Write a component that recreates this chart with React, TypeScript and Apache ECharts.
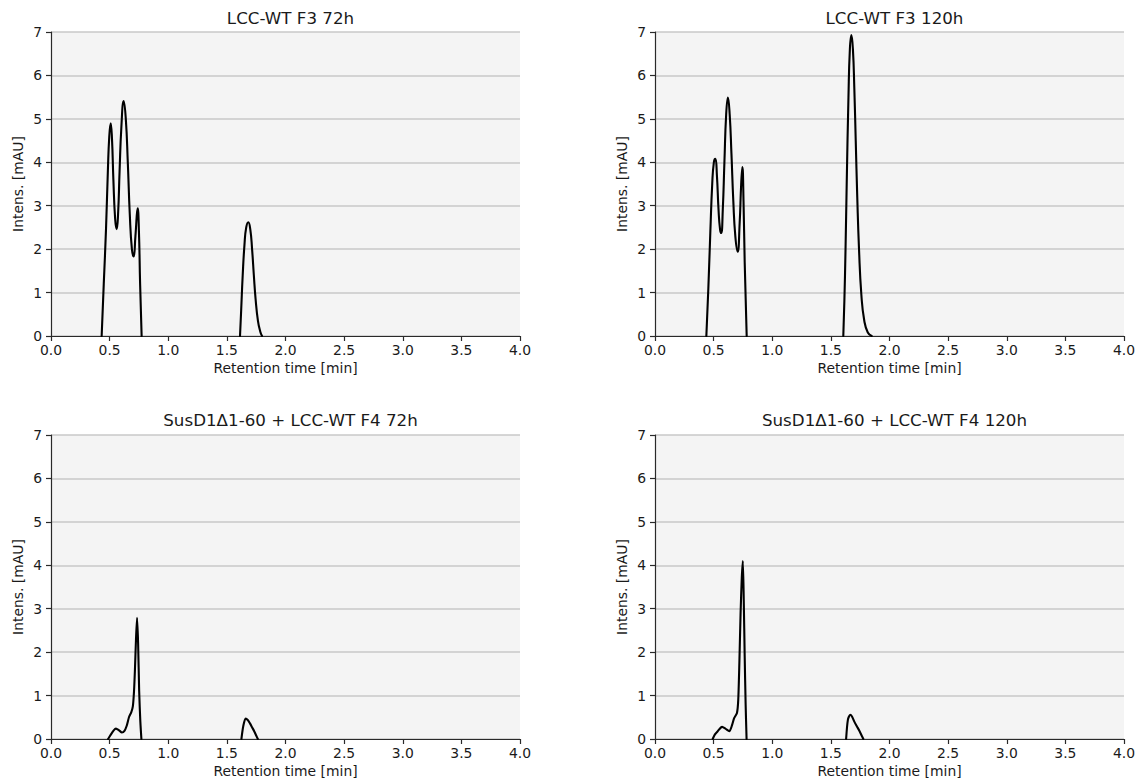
import React, { useEffect, useRef } from "react";
import * as echarts from "echarts";

type Pt = [number, number];

const titles: string[] = [
  "LCC-WT F3 72h",
  "LCC-WT F3 120h",
  "SusD1\u03941-60 + LCC-WT F4 72h",
  "SusD1\u03941-60 + LCC-WT F4 120h",
];

const xTicks = [0, 0.5, 1, 1.5, 2, 2.5, 3, 3.5, 4];
const yTicks = [0, 1, 2, 3, 4, 5, 6, 7];

// LCC-WT F3 72h
const f3h72EarlyPeaks: Pt[] = [
  [0.432, 0], [0.45, 1.2], [0.469, 2.45], [0.485, 3.8], [0.497, 4.6], [0.509, 4.9],
  [0.52, 4.55], [0.532, 3.6], [0.547, 2.7], [0.56, 2.46], [0.572, 2.8], [0.585, 3.8],
  [0.6, 4.8], [0.62, 5.41], [0.638, 5.0], [0.655, 4.0], [0.672, 2.8], [0.69, 2.0],
  [0.705, 1.83], [0.72, 2.3], [0.739, 2.94], [0.75, 2.4], [0.76, 1.2], [0.773, 0],
];
const f3h72LatePeak: Pt[] = [
  [1.612, 0], [1.622, 0.6], [1.635, 1.4], [1.65, 2.1], [1.665, 2.5], [1.683, 2.62],
  [1.7, 2.45], [1.715, 2.0], [1.73, 1.4], [1.745, 0.85], [1.765, 0.35], [1.785, 0.1],
  [1.8, 0],
];

// LCC-WT F3 120h
const f3h120EarlyPeaks: Pt[] = [
  [0.438, 0], [0.455, 1.1], [0.472, 2.4], [0.488, 3.5], [0.502, 4.0], [0.515, 4.08],
  [0.528, 3.7], [0.542, 2.9], [0.555, 2.45], [0.565, 2.37], [0.578, 2.9], [0.592, 4.0],
  [0.607, 5.1], [0.622, 5.49], [0.637, 5.1], [0.652, 4.2], [0.668, 3.1], [0.685, 2.3],
  [0.705, 1.94], [0.722, 2.6], [0.735, 3.5], [0.745, 3.89], [0.755, 3.1], [0.765, 1.7],
  [0.782, 0],
];
const f3h120LatePeak: Pt[] = [
  [1.606, 0], [1.615, 0.8], [1.625, 2.0], [1.635, 3.5], [1.65, 5.5], [1.662, 6.6],
  [1.675, 6.93], [1.688, 6.6], [1.7, 5.7], [1.712, 4.5], [1.725, 3.2], [1.74, 2.0],
  [1.76, 0.95], [1.785, 0.35], [1.815, 0.08], [1.848, 0],
];

// SusD1Δ1-60 + LCC-WT F4 72h
const f4h72EarlyPeaks: Pt[] = [
  [0.487, 0], [0.51, 0.1], [0.535, 0.2], [0.554, 0.24], [0.58, 0.2], [0.605, 0.15],
  [0.625, 0.18], [0.645, 0.3], [0.665, 0.5], [0.685, 0.62], [0.698, 0.75], [0.708, 1.1],
  [0.716, 1.6], [0.725, 2.3], [0.734, 2.79], [0.743, 2.2], [0.752, 1.1], [0.762, 0.4],
  [0.771, 0],
];
const f4h72LatePeak: Pt[] = [
  [1.624, 0], [1.64, 0.3], [1.66, 0.47], [1.68, 0.43], [1.697, 0.36], [1.715, 0.27],
  [1.733, 0.18], [1.75, 0.08], [1.764, 0],
];

// SusD1Δ1-60 + LCC-WT F4 120h
const f4h120EarlyPeaks: Pt[] = [
  [0.492, 0], [0.51, 0.1], [0.535, 0.18], [0.572, 0.28], [0.6, 0.24], [0.634, 0.18],
  [0.655, 0.3], [0.675, 0.48], [0.699, 0.6], [0.71, 0.9], [0.72, 1.8], [0.73, 2.9],
  [0.74, 3.7], [0.749, 4.1], [0.757, 3.2], [0.765, 1.9], [0.773, 0.8], [0.781, 0],
];
const f4h120LatePeak: Pt[] = [
  [1.63, 0], [1.645, 0.44], [1.665, 0.56], [1.68, 0.52], [1.7, 0.4], [1.72, 0.3],
  [1.745, 0.18], [1.762, 0.08], [1.777, 0],
];

const panels: Pt[][][] = [
  [f3h72EarlyPeaks, f3h72LatePeak],
  [f3h120EarlyPeaks, f3h120LatePeak],
  [f4h72EarlyPeaks, f4h72LatePeak],
  [f4h120EarlyPeaks, f4h120LatePeak],
];
const smoothness = [0.5, 0.5, 0.25, 0.25];

const FONT = "DejaVu Sans";
const TEXT = "#1a1a1a";

const gridBoxes = [
  { left: 51, top: 32, width: 469, height: 304 },
  { left: 655, top: 32, width: 469, height: 304 },
  { left: 51, top: 435, width: 469, height: 304 },
  { left: 655, top: 435, width: 469, height: 304 },
];

export default function App() {
  const ref = useRef<HTMLDivElement>(null);

  useEffect(() => {
    if (!ref.current) return;
    const chart = echarts.init(ref.current, null, { renderer: "svg" });

    const grid = gridBoxes.map((g) => ({
      ...g,
      show: true,
      backgroundColor: "#f4f4f4",
      borderWidth: 0,
      containLabel: false,
    }));

    const title = gridBoxes.map((g, i) => ({
      text: titles[i],
      left: g.left + g.width / 2,
      top: g.top - (i < 2 ? 28 : 29),
      textAlign: "center",
      textStyle: { fontFamily: FONT, fontSize: 16.7, fontWeight: "normal", color: TEXT },
    }));

    const axisLineStyle = { color: "#2a2a2a", width: 1.2 };

    const xAxis = gridBoxes.map((_, i) => ({
      type: "value",
      gridIndex: i,
      min: 0,
      max: 4,
      interval: 0.5,
      name: "Retention time [min]",
      nameLocation: "middle",
      nameGap: 25,
      nameTextStyle: { fontFamily: FONT, fontSize: 13.9, color: TEXT },
      axisLine: { show: true, onZero: false, lineStyle: axisLineStyle },
      axisTick: { show: true, length: 5, lineStyle: axisLineStyle },
      axisLabel: {
        fontFamily: FONT,
        fontSize: 13.9,
        color: TEXT,
        margin: 7,
        formatter: (v: number) => (xTicks.includes(v) ? v.toFixed(1) : ""),
      },
      splitLine: { show: false },
    }));

    const yAxis = gridBoxes.map((_, i) => ({
      type: "value",
      gridIndex: i,
      min: 0,
      max: 7,
      interval: 1,
      name: "Intens. [mAU]",
      nameLocation: "middle",
      nameGap: 26,
      nameRotate: 90,
      nameTextStyle: { fontFamily: FONT, fontSize: 13.9, color: TEXT },
      axisLine: { show: true, lineStyle: axisLineStyle },
      axisTick: { show: true, length: 5, lineStyle: axisLineStyle },
      axisLabel: {
        fontFamily: FONT,
        fontSize: 13.9,
        color: TEXT,
        margin: 9,
        formatter: (v: number) => (yTicks.includes(v) ? String(v) : ""),
      },
      splitLine: { show: true, lineStyle: { color: "#c8c8c8", width: 1.5 } },
    }));

    const series: any[] = [];
    panels.forEach((segs, i) => {
      segs.forEach((seg) => {
        series.push({
          type: "line",
          xAxisIndex: i,
          yAxisIndex: i,
          data: seg,
          showSymbol: false,
          symbol: "none",
          smooth: smoothness[i],
          lineStyle: { color: "#000000", width: 2.1, cap: "round", join: "round" },
          clip: true,
          silent: true,
        });
      });
    });

    chart.setOption({
      animation: false,
      backgroundColor: "#ffffff",
      title,
      grid,
      xAxis,
      yAxis,
      series,
    });

    return () => chart.dispose();
  }, []);

  return (
    <div
      ref={ref}
      style={{ position: "fixed", left: 0, top: 0, width: 1142, height: 784, background: "#fff" }}
    />
  );
}
